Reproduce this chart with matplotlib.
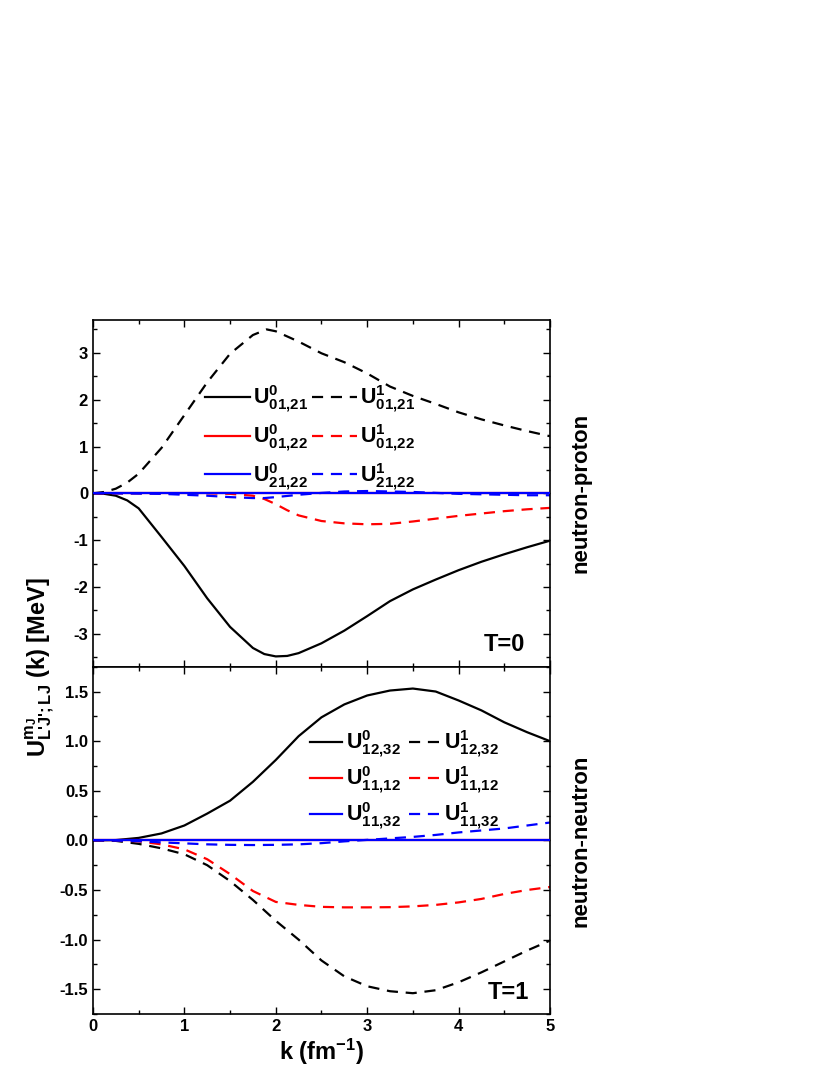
import matplotlib
matplotlib.use("Agg")
import matplotlib.pyplot as plt
from matplotlib.ticker import MultipleLocator, FormatStrFormatter

plt.rcParams['font.family'] = ['Liberation Sans', 'DejaVu Sans']
plt.rcParams['font.weight'] = 'bold'
plt.rcParams['mathtext.fontset'] = 'custom'
plt.rcParams['mathtext.rm'] = 'Liberation Sans:bold'
plt.rcParams['mathtext.it'] = 'Liberation Sans:bold'
plt.rcParams['mathtext.bf'] = 'Liberation Sans:bold'
plt.rcParams['mathtext.default'] = 'bf'
plt.rcParams['axes.unicode_minus'] = False

# T=0, neutron-proton
k_np_a0 = [0.0, 0.125, 0.25, 0.375, 0.5, 0.75, 1.0, 1.25, 1.5, 1.75, 1.875, 2.0, 2.125,
           2.25, 2.5, 2.75, 3.0, 3.25, 3.5, 3.75, 4.0, 4.25, 4.5, 4.75, 5.0]
np_a0 = [0.0, -0.01, -0.05, -0.15, -0.32, -0.93, -1.55, -2.24, -2.85, -3.3, -3.43, -3.48, -3.47,
         -3.41, -3.2, -2.93, -2.62, -2.3, -2.05, -1.84, -1.64, -1.46, -1.3, -1.15, -1.01]
k_np_a1 = [0.0, 0.125, 0.25, 0.375, 0.5, 0.75, 1.0, 1.25, 1.5, 1.75, 1.9, 2.0, 2.25, 2.5,
           2.75, 3.0, 3.25, 3.5, 3.75, 4.0, 4.25, 4.5, 4.75, 5.0]
np_a1 = [0.0, 0.03, 0.1, 0.23, 0.42, 0.97, 1.67, 2.37, 2.98, 3.38, 3.5, 3.46, 3.24, 2.99,
         2.8, 2.56, 2.28, 2.08, 1.91, 1.73, 1.58, 1.45, 1.33, 1.22]
k_np_b = [0.0, 0.5, 1.0, 1.25, 1.5, 1.75, 1.875, 2.0, 2.125, 2.25, 2.5,
          2.75, 3.0, 3.25, 3.5, 3.75, 4.0, 4.25, 4.5, 4.75, 5.0]
np_b0 = [0.0] * len(k_np_b)
np_b1 = [0.0, 0.0, 0.0, 0.0, -0.01, -0.05, -0.12, -0.23, -0.36, -0.47, -0.59,
         -0.64, -0.66, -0.65, -0.6, -0.54, -0.48, -0.43, -0.38, -0.34, -0.31]
k_np_c = [0.0, 0.25, 0.5, 0.75, 1.0, 1.25, 1.5, 1.75, 1.875, 2.0, 2.25, 2.5,
          2.75, 3.0, 3.25, 3.5, 3.75, 4.0, 4.25, 4.5, 4.75, 5.0]
np_c0 = [0.0] * len(k_np_c)
np_c1 = [0.0, 0.0, -0.005, -0.01, -0.03, -0.05, -0.08, -0.1, -0.1, -0.08, -0.03, 0.01,
         0.04, 0.05, 0.04, 0.03, 0.01, -0.01, -0.02, -0.03, -0.04, -0.04]

# T=1, neutron-neutron
k_nn = [0.0, 0.25, 0.5, 0.75, 1.0, 1.25, 1.5, 1.75, 2.0, 2.25, 2.5,
        2.75, 3.0, 3.25, 3.5, 3.75, 4.0, 4.25, 4.5, 4.75, 5.0]
nn_a0 = [0.0, 0.003, 0.025, 0.07, 0.15, 0.27, 0.4, 0.59, 0.81, 1.05, 1.24,
         1.37, 1.46, 1.51, 1.53, 1.5, 1.41, 1.31, 1.19, 1.09, 1.0]
nn_a1 = [0.0, -0.005, -0.035, -0.08, -0.14, -0.25, -0.41, -0.6, -0.81, -1.0, -1.21,
         -1.37, -1.47, -1.52, -1.54, -1.51, -1.43, -1.33, -1.22, -1.11, -1.01]
nn_b0 = [0.0] * len(k_nn)
nn_b1 = [0.0, 0.0, -0.01, -0.04, -0.09, -0.19, -0.34, -0.51, -0.62, -0.65, -0.67,
         -0.675, -0.675, -0.673, -0.665, -0.65, -0.625, -0.59, -0.54, -0.5, -0.47]
nn_c0 = [0.0] * len(k_nn)
nn_c1 = [0.0, -0.002, -0.008, -0.02, -0.03, -0.04, -0.045, -0.047, -0.045, -0.04, -0.028,
         -0.01, 0.005, 0.02, 0.035, 0.055, 0.08, 0.1, 0.12, 0.15, 0.18]

np_labels0 = [r'$U^{0}_{01{,}21}$', r'$U^{0}_{01{,}22}$', r'$U^{0}_{21{,}22}$']
np_labels1 = [r'$U^{1}_{01{,}21}$', r'$U^{1}_{01{,}22}$', r'$U^{1}_{21{,}22}$']
nn_labels0 = [r'$U^{0}_{12{,}32}$', r'$U^{0}_{11{,}12}$', r'$U^{0}_{11{,}32}$']
nn_labels1 = [r'$U^{1}_{12{,}32}$', r'$U^{1}_{11{,}12}$', r'$U^{1}_{11{,}32}$']
colors = ['black', '#ff0000', '#0000ff']

lw = 1.6
dash = (5, 3.5)

fig = plt.figure(figsize=(8.3, 10.75), dpi=100)
ax1 = fig.add_axes([0.112, 0.3798, 0.5506, 0.3225])
ax2 = fig.add_axes([0.112, 0.0567, 0.5506, 0.3231], sharex=ax1)

# top panel
ax1.plot(k_np_a0, np_a0, color=colors[0], lw=lw, label=np_labels0[0])
ax1.plot(k_np_b, np_b0, color=colors[1], lw=lw, label=np_labels0[1])
ax1.plot(k_np_c, np_c0, color=colors[2], lw=lw, label=np_labels0[2], zorder=3)
ax1.plot(k_np_a1, np_a1, color=colors[0], lw=lw, dashes=dash, label=np_labels1[0])
ax1.plot(k_np_b, np_b1, color=colors[1], lw=lw, dashes=dash, label=np_labels1[1])
ax1.plot(k_np_c, np_c1, color=colors[2], lw=lw, dashes=dash, label=np_labels1[2])

# bottom panel
ax2.plot(k_nn, nn_a0, color=colors[0], lw=lw, label=nn_labels0[0])
ax2.plot(k_nn, nn_b0, color=colors[1], lw=lw, label=nn_labels0[1])
ax2.plot(k_nn, nn_c0, color=colors[2], lw=lw, label=nn_labels0[2], zorder=3)
ax2.plot(k_nn, nn_a1, color=colors[0], lw=lw, dashes=dash, label=nn_labels1[0])
ax2.plot(k_nn, nn_b1, color=colors[1], lw=lw, dashes=dash, label=nn_labels1[1])
ax2.plot(k_nn, nn_c1, color=colors[2], lw=lw, dashes=dash, label=nn_labels1[2])

ax1.set_xlim(0, 5)
ax1.set_ylim(-3.7, 3.7)
ax2.set_ylim(-1.75, 1.75)

ax1.yaxis.set_major_locator(MultipleLocator(1))
ax1.yaxis.set_minor_locator(MultipleLocator(0.5))
ax1.yaxis.set_major_formatter(FormatStrFormatter('%d'))
ax2.yaxis.set_major_locator(MultipleLocator(0.5))
ax2.yaxis.set_minor_locator(MultipleLocator(0.25))
ax2.yaxis.set_major_formatter(FormatStrFormatter('%.1f'))
ax2.xaxis.set_major_locator(MultipleLocator(1))
ax2.xaxis.set_minor_locator(MultipleLocator(0.5))

for ax in (ax1, ax2):
    ax.tick_params(which='both', direction='in', top=True, right=True,
                   labelsize=12, width=1.0)
    ax.tick_params(which='major', length=5)
    ax.tick_params(which='minor', length=3)
    for s in ax.spines.values():
        s.set_linewidth(1.2)
    for lab in ax.get_yticklabels() + ax.get_xticklabels():
        lab.set_fontweight('bold')
ax1.tick_params(labelbottom=False)

leg_kw = dict(ncol=2, frameon=False, fontsize=15.5, loc='upper left',
              borderaxespad=0, borderpad=0, handletextpad=0.15)
ax1.legend(bbox_to_anchor=(0.245, 0.815), handlelength=2.1,
           columnspacing=0.15, labelspacing=0.35, **leg_kw)
ax2.legend(bbox_to_anchor=(0.475, 0.82), handlelength=1.5,
           columnspacing=0.4, labelspacing=0.22, **leg_kw)

ax1.text(0.90, 0.065, 'T=0', transform=ax1.transAxes, fontsize=17,
         fontweight='bold', ha='center', va='center')
ax2.text(0.91, 0.063, 'T=1', transform=ax2.transAxes, fontsize=17,
         fontweight='bold', ha='center', va='center')

fig.text(0.70, 0.5 * (0.3798 + 0.7023), 'neutron-proton', rotation=90,
         fontsize=16, fontweight='bold', ha='center', va='center')
fig.text(0.70, 0.5 * (0.0567 + 0.3798), 'neutron-neutron', rotation=90,
         fontsize=16, fontweight='bold', ha='center', va='center')

ax2.set_xlabel(r'k (fm$^{-1}$)', fontsize=17, fontweight='bold', labelpad=2)
fig.text(0.048, 0.3798, r"$U^{m_J}_{L\text{'}J\text{'};LJ}$ (k) [MeV]", rotation=90,
         fontsize=17, fontweight='bold', ha='center', va='center')

fig.savefig('out.png', dpi=100)
